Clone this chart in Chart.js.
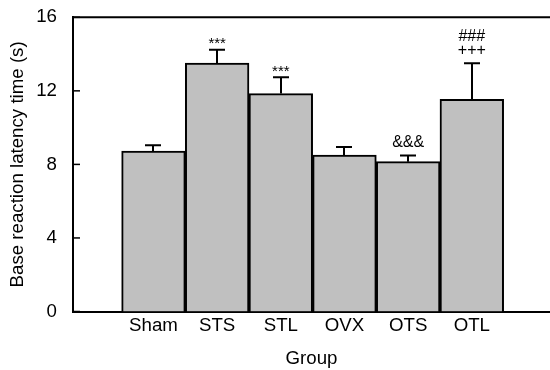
<!DOCTYPE html>
<html>
<head>
<meta charset="utf-8">
<script src="https://cdn.jsdelivr.net/npm/chart.js@4"></script>
<style>
  html, body { margin: 0; padding: 0; background: #fff; }
  #wrap { width: 550px; height: 370px; }
</style>
</head>
<body>
<div id="wrap"><canvas id="c" width="550" height="370"></canvas></div>
<script>
// Base reaction latency per group (mean ± SEM)
const groups = ['Sham', 'STS', 'STL', 'OVX', 'OTS', 'OTL'];
const latency = [8.73, 13.51, 11.85, 8.51, 8.15, 11.54];
const sem = [0.31, 0.73, 0.89, 0.44, 0.34, 1.96];
// significance marks, lower line sits right above the error bar
const marksLower = ['', '***', '***', '', '&&&', '+++'];
const marksUpper = ['', '', '', '', '', '###'];
const yTicks = [0, 4, 8, 12, 16];

const FONT = '"Liberation Sans", Arial, sans-serif';
const LABEL_SIZE = 18.7;

const decorations = {
  id: 'decorations',
  afterDatasetsDraw(chart) {
    const { ctx, chartArea: area } = chart;
    const xs = chart.scales.x, ys = chart.scales.y;
    ctx.save();
    ctx.strokeStyle = '#000';
    ctx.lineCap = 'butt';

    // upper error bars with caps
    ctx.lineWidth = 2;
    latency.forEach((v, i) => {
      const px = Math.round(xs.getPixelForValue(i));
      const y0 = ys.getPixelForValue(v);
      const y1 = ys.getPixelForValue(v + sem[i]);
      ctx.beginPath();
      ctx.moveTo(px, y0);
      ctx.lineTo(px, y1);
      ctx.moveTo(px - 8, y1);
      ctx.lineTo(px + 8, y1);
      ctx.stroke();
    });

    // top frame line, open on the right
    ctx.beginPath();
    ctx.moveTo(area.left - 1, area.top);
    ctx.lineTo(chart.width, area.top);
    ctx.stroke();

    // inward tick marks on the value axis
    ctx.lineWidth = 1.5;
    yTicks.forEach(t => {
      const py = ys.getPixelForValue(t);
      ctx.beginPath();
      ctx.moveTo(area.left, py);
      ctx.lineTo(area.left + 7, py);
      ctx.stroke();
    });

    // significance marks
    ctx.fillStyle = '#000';
    ctx.textAlign = 'center';
    ctx.textBaseline = 'alphabetic';
    latency.forEach((v, i) => {
      const px = xs.getPixelForValue(i);
      const cap = ys.getPixelForValue(v + sem[i]);
      const low = marksLower[i];
      if (low) {
        const star = low.startsWith('*');
        ctx.font = (star ? '15px ' : '16px ') + FONT;
        ctx.fillText(low, px, cap - (star ? 1.5 : 8.7));
      }
      if (marksUpper[i]) {
        ctx.font = '16px ' + FONT;
        ctx.fillText(marksUpper[i], px, cap - 8.7 - 14);
      }
    });
    ctx.restore();
  }
};

new Chart(document.getElementById('c'), {
  type: 'bar',
  data: {
    datasets: [{
      data: groups.map((g, i) => ({ x: i, y: latency[i] })),
      backgroundColor: '#c0c0c0',
      borderColor: '#000',
      borderWidth: 2,
      borderSkipped: 'start',
      barPercentage: 1,
      categoryPercentage: 1
    }]
  },
  options: {
    responsive: false,
    animation: false,
    devicePixelRatio: 1,
    layout: { padding: { top: 17.3, right: 0, bottom: 0, left: 0 } },
    plugins: { legend: { display: false }, tooltip: { enabled: false } },
    scales: {
      x: {
        type: 'linear',
        offset: false,
        min: -1.264,
        max: 6.228,
        grid: { display: false, drawTicks: false, tickLength: 0, offset: false },
        border: { display: true, color: '#000', width: 2 },
        afterBuildTicks: s => { s.ticks = groups.map((g, i) => ({ value: i })); },
        afterFit: s => { s.height = 58.5; s.paddingLeft = 0; s.paddingRight = 0; },
        ticks: {
          callback: v => groups[v] ?? '',
          font: { family: FONT, size: LABEL_SIZE },
          color: '#000',
          padding: 3,
          maxRotation: 0,
          autoSkip: false
        },
        title: {
          display: true,
          text: 'Group',
          font: { family: FONT, size: LABEL_SIZE },
          color: '#000',
          padding: { top: 0, bottom: 0 }
        }
      },
      y: {
        min: 0,
        max: 16,
        grid: { display: false, drawTicks: false, tickLength: 0 },
        border: { display: true, color: '#000', width: 2 },
        afterBuildTicks: s => { s.ticks = yTicks.map(v => ({ value: v })); },
        afterFit: s => { s.width = 73; s.paddingTop = 0; s.paddingBottom = 0; },
        ticks: {
          font: { family: FONT, size: LABEL_SIZE },
          color: '#000',
          padding: 16
        },
        title: {
          display: true,
          text: 'Base reaction latency time (s)',
          font: { family: FONT, size: LABEL_SIZE },
          color: '#000',
          padding: { top: 7, bottom: 0 }
        }
      }
    }
  },
  plugins: [decorations]
});
</script>
</body>
</html>
